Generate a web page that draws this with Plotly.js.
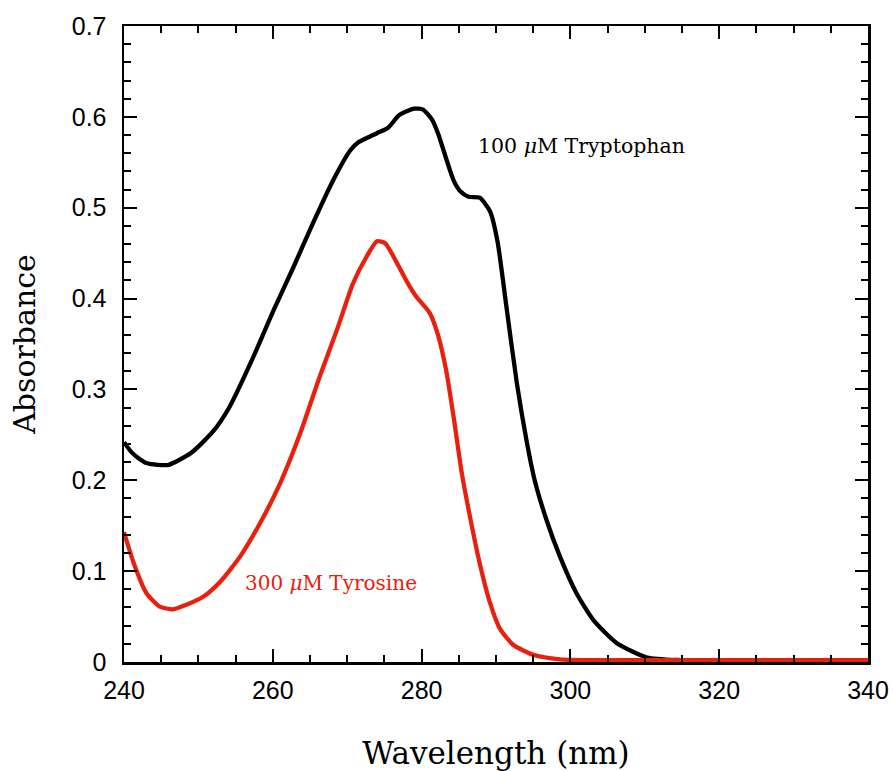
<!DOCTYPE html>
<html>
<head>
<meta charset="utf-8">
<script src="https://cdn.plot.ly/plotly-3.0.1.min.js"></script>
<style>html,body{margin:0;padding:0;background:#fff;}#chart{width:893px;height:771px;}</style>
</head>
<body>
<div id="chart"></div>
<script>
// Tryptophan (100 µM)
const trpWavelength = [240, 241, 242, 243, 244.5, 246, 249, 252, 254.2, 257.4, 260.1, 262.8, 265.4, 268.1, 270.4, 271.5, 274, 275.5, 277, 279, 280.2, 281.4, 282.2, 284.3, 285.2, 286.3, 287.8, 289.2, 290.2, 291.4, 292.8, 294.1, 295.2, 296.8, 298.6, 300.8, 303.1, 306.2, 310.3, 315, 320, 330, 340];
const trpAbsorbance = [0.242, 0.231, 0.224, 0.219, 0.217, 0.217, 0.230, 0.254, 0.281, 0.336, 0.387, 0.435, 0.483, 0.530, 0.563, 0.572, 0.582, 0.588, 0.602, 0.609, 0.608, 0.597, 0.582, 0.530, 0.518, 0.512, 0.511, 0.496, 0.463, 0.391, 0.307, 0.244, 0.200, 0.156, 0.116, 0.076, 0.046, 0.021, 0.005, 0.002, 0.001, 0.001, 0.001];
// Tyrosine (300 µM)
const tyrWavelength = [240, 241.3, 243, 244.8, 246.6, 248.4, 250.7, 252.9, 255.6, 258.3, 261, 263.7, 266.3, 268.6, 270.8, 272.6, 274, 275.1, 276.7, 278, 279.3, 281.1, 282.2, 283.3, 284.3, 285.4, 286.5, 287.8, 289.2, 290.5, 292.3, 295, 298.6, 305, 320, 340];
const tyrAbsorbance = [0.143, 0.109, 0.076, 0.061, 0.058, 0.063, 0.072, 0.088, 0.116, 0.153, 0.197, 0.252, 0.314, 0.365, 0.417, 0.446, 0.463, 0.461, 0.439, 0.419, 0.402, 0.384, 0.360, 0.321, 0.270, 0.208, 0.160, 0.109, 0.065, 0.037, 0.019, 0.008, 0.003, 0.002, 0.002, 0.002];

const xTickVals = [240, 260, 280, 300, 320, 340];
const yTickVals = [0, 0.1, 0.2, 0.3, 0.4, 0.5, 0.6, 0.7];
const yTickText = ['0', '0.1', '0.2', '0.3', '0.4', '0.5', '0.6', '0.7'];

const serif = '"DejaVu Serif", "Liberation Serif", serif';
const sans = '"Liberation Sans", Arial, sans-serif';

const traces = [
  {x: trpWavelength, y: trpAbsorbance, mode: 'lines', line: {color: '#000000', width: 4.3, shape: 'spline', smoothing: 0.6}, hoverinfo: 'skip'},
  {x: tyrWavelength, y: tyrAbsorbance, mode: 'lines', line: {color: '#e8200e', width: 4.3, shape: 'spline', smoothing: 0.6}, hoverinfo: 'skip'}
];

const axisCommon = {
  showgrid: false, zeroline: false, showline: true, linecolor: '#000', linewidth: 2.5,
  mirror: 'ticks', ticks: 'inside', ticklen: 13, tickwidth: 2, tickcolor: '#000',
  tickfont: {family: sans, size: 25, color: '#000'}
};

const layout = {
  width: 893, height: 771,
  margin: {l: 124, r: 25, t: 26, b: 109},
  paper_bgcolor: '#fff', plot_bgcolor: '#fff',
  showlegend: false,
  xaxis: Object.assign({}, axisCommon, {
    range: [240, 340], tickmode: 'array', tickvals: xTickVals, ticklabelstandoff: 4,
    minor: {dtick: 5, ticks: 'inside', ticklen: 7, tickwidth: 2, tickcolor: '#000', showgrid: false},
    title: {text: 'Wavelength (nm)', font: {family: serif, size: 31, color: '#000'}, standoff: 41}
  }),
  yaxis: Object.assign({}, axisCommon, {
    range: [0, 0.7], tickmode: 'array', tickvals: yTickVals, ticktext: yTickText, ticklabelstandoff: 10,
    minor: {dtick: 0.02, ticks: 'inside', ticklen: 7, tickwidth: 2, tickcolor: '#000', showgrid: false},
    title: {text: 'Absorbance', font: {family: serif, size: 30, color: '#000'}, standoff: 27}
  }),
  annotations: [
    {x: 287.3, y: 0.568, xref: 'x', yref: 'y', xanchor: 'left', yanchor: 'middle', showarrow: false,
     text: '100 <i>μ</i>M Tryptophan', font: {family: serif, size: 20.5, color: '#000'}},
    {x: 256.0, y: 0.087, xref: 'x', yref: 'y', xanchor: 'left', yanchor: 'middle', showarrow: false,
     text: '300 <i>μ</i>M Tyrosine', font: {family: serif, size: 20, color: '#e8200e'}}
  ]
};

Plotly.newPlot('chart', traces, layout, {staticPlot: true, displayModeBar: false});
</script>
</body>
</html>
